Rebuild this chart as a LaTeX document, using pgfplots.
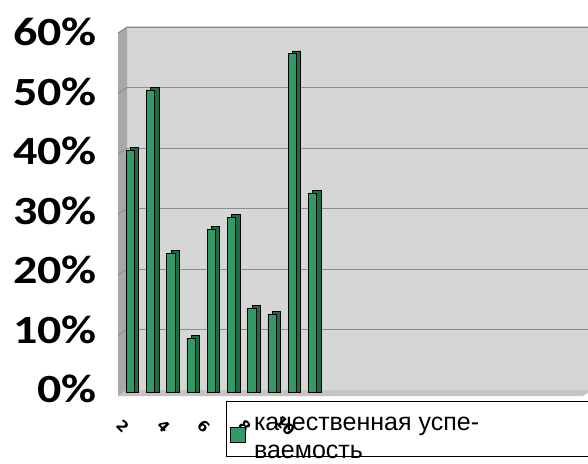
\documentclass[border=0pt]{standalone}
\usepackage{pgfplots}
\pgfplotsset{compat=1.18}
\usepackage{pgfplotstable}
\usepackage{fontspec}
\setmainfont{Liberation Sans}
\newfontfamily\labfont[FakeStretch=1.2]{Carlito}
\newfontfamily\legfont{Liberation Sans}
\newfontfamily\tickfont{DejaVu Sans}
\definecolor{barcol}{HTML}{339966}
\definecolor{barside}{HTML}{1E6B44}
\definecolor{wallgray}{HTML}{D6D6D6}
\definecolor{sidegray}{HTML}{A8A8A8}
\definecolor{floorgray}{HTML}{C4C4C4}
\definecolor{gridc}{HTML}{8C8C8C}

\pgfplotstableread{
x v
2 40
3 50
4 23
5 9
6 27
7 29
8 14
9 13
10 56
11 33
}\front
\pgfplotstableread{
x v
2 40.45
3 50.45
4 23.45
5 9.45
6 27.45
7 29.45
8 14.45
9 13.45
10 56.45
11 33.45
}\back

\begin{document}
\begin{tikzpicture}
\useasboundingbox (0,0) rectangle (588pt,463pt);
\begin{axis}[
  at={(127pt,73pt)}, anchor=south west,
  scale only axis, width=465pt, height=363pt,
  xmin=1.842, xmax=24.79, ymin=0, ymax=60,
  ybar, bar width=8.3pt,
  xtick={2,4,6,8,10},
  xticklabels={2,4,6,8,10},
  xticklabel style={xshift=-7pt, yshift=-36pt, rotate=-45, anchor=center, font=\tickfont\bfseries\fontsize{15}{15}\selectfont},
  ytick={0,10,20,30,40,50,60}, yticklabels={},
  ymajorgrids, grid style={gridc, line width=0.9pt},
  axis line style={draw=none}, major tick length=0pt,
  clip=false,
  axis background/.style={fill=wallgray},
  legend style={at={(axis description cs:0.2129,-0.0303)}, anchor=north west,
    draw=black, line width=0.8pt, fill=none, font=\legfont\fontsize{25}{27.6}\selectfont,
    inner xsep=4pt, inner ysep=14pt},
  legend cell align=left,
  legend image code/.code={\draw[fill=barcol, draw=black, line width=0.6pt] (4pt,-15pt) rectangle (19pt,0pt); \path (25pt,0pt);},
]
% side wall and floor
\fill[sidegray] (rel axis cs:0,0) -- (rel axis cs:0,1) -- ([shift={(-9pt,-6pt)}]rel axis cs:0,1) -- ([shift={(-9pt,-6pt)}]rel axis cs:0,0) -- cycle;
\fill[floorgray] (rel axis cs:0,0) -- (rel axis cs:1,0) -- ([shift={(-9pt,-6pt)}]rel axis cs:1,0) -- ([shift={(-9pt,-6pt)}]rel axis cs:0,0) -- cycle;
\draw[gray, line width=0.8pt] ([shift={(-9pt,-6pt)}]rel axis cs:0,1) -- (rel axis cs:0,1) -- (rel axis cs:1,1);
\pgfplotsinvokeforeach{10,20,30,40,50}{\draw[gridc, line width=0.9pt] (axis cs:1.842,#1) -- ([shift={(-9pt,-6pt)}]axis cs:1.842,#1);}
\addplot[fill=barside, draw=black, line width=0.6pt, bar shift=4.3pt, yshift=-2.5pt, forget plot] table[x=x,y=v]{\back};
\addplot[fill=barcol, draw=black, line width=0.6pt, bar shift=0pt, yshift=-2.5pt] table[x=x,y=v]{\front};
\addlegendentry{\parbox[t]{360pt}{качественная успе-\\ваемость}}
\end{axis}
\begin{axis}[
  at={(97pt,74pt)}, anchor=south west,
  scale only axis, width=1pt, height=357pt,
  xmin=0, xmax=1, ymin=0, ymax=60,
  xtick=\empty, ytick={0,10,20,30,40,50,60},
  yticklabels={0\%,10\%,20\%,30\%,40\%,50\%,60\%},
  yticklabel style={anchor=east, inner sep=0pt, font=\labfont\bfseries\fontsize{40}{40}\selectfont},
  axis line style={draw=none}, major tick length=0pt,
]
\end{axis}
\end{tikzpicture}
\end{document}
